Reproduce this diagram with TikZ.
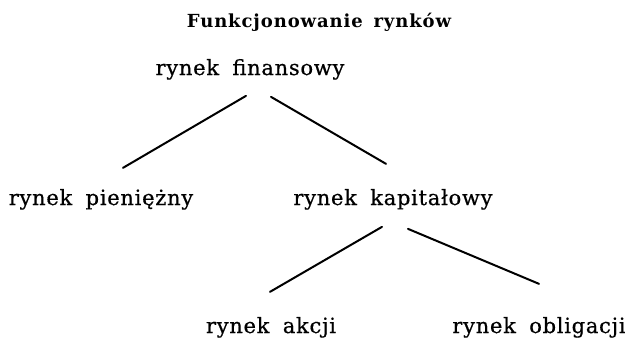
\documentclass[tikz,border=0pt]{standalone}
\usepackage{fontspec}
\setmainfont{DejaVu Serif}
\newfontfamily\lblfont[LetterSpace=3.5,WordSpace=1.8,FakeBold=0.6]{DejaVu Serif}
\newfontfamily\ttlfont[LetterSpace=5,WordSpace=1.5]{DejaVu Serif Bold}
\begin{document}
\begin{tikzpicture}[x=1pt,y=-1pt,
    lbl/.style={anchor=base, inner sep=0pt, font=\lblfont\fontsize{21}{24}\selectfont},
    ttl/.style={anchor=base, inner sep=0pt, font=\ttlfont\fontsize{18}{21}\selectfont},
    link/.style={line width=2pt, line cap=round}]
  \useasboundingbox (0,0) rectangle (625,338);
  % title and tree labels (baseline positions)
  \node[ttl] (title) at (319,27) {Funkcjonowanie rynków};
  \node[lbl] (fin)  at (250,75)  {rynek finansowy};
  \node[lbl] (pien) at (101,205) {rynek pieniężny};
  \node[lbl] (kap)  at (393,205) {rynek kapitałowy};
  \node[lbl] (akc)  at (271,333) {rynek akcji};
  \node[lbl] (obl)  at (539,333) {rynek obligacji};
  % branches
  \draw[link] ([shift={(-4,16)}]fin.south) -- ([shift={(22,-21)}]pien.north);
  \draw[link] ([shift={(21,17)}]fin.south) -- ([shift={(-7,-25)}]kap.north);
  \draw[link] ([shift={(-11,17)}]kap.south) -- ([shift={(-1,-25)}]akc.north);
  \draw[link] ([shift={(15,19)}]kap.south) -- ([shift={(0,-33)}]obl.north);
\end{tikzpicture}
\end{document}
